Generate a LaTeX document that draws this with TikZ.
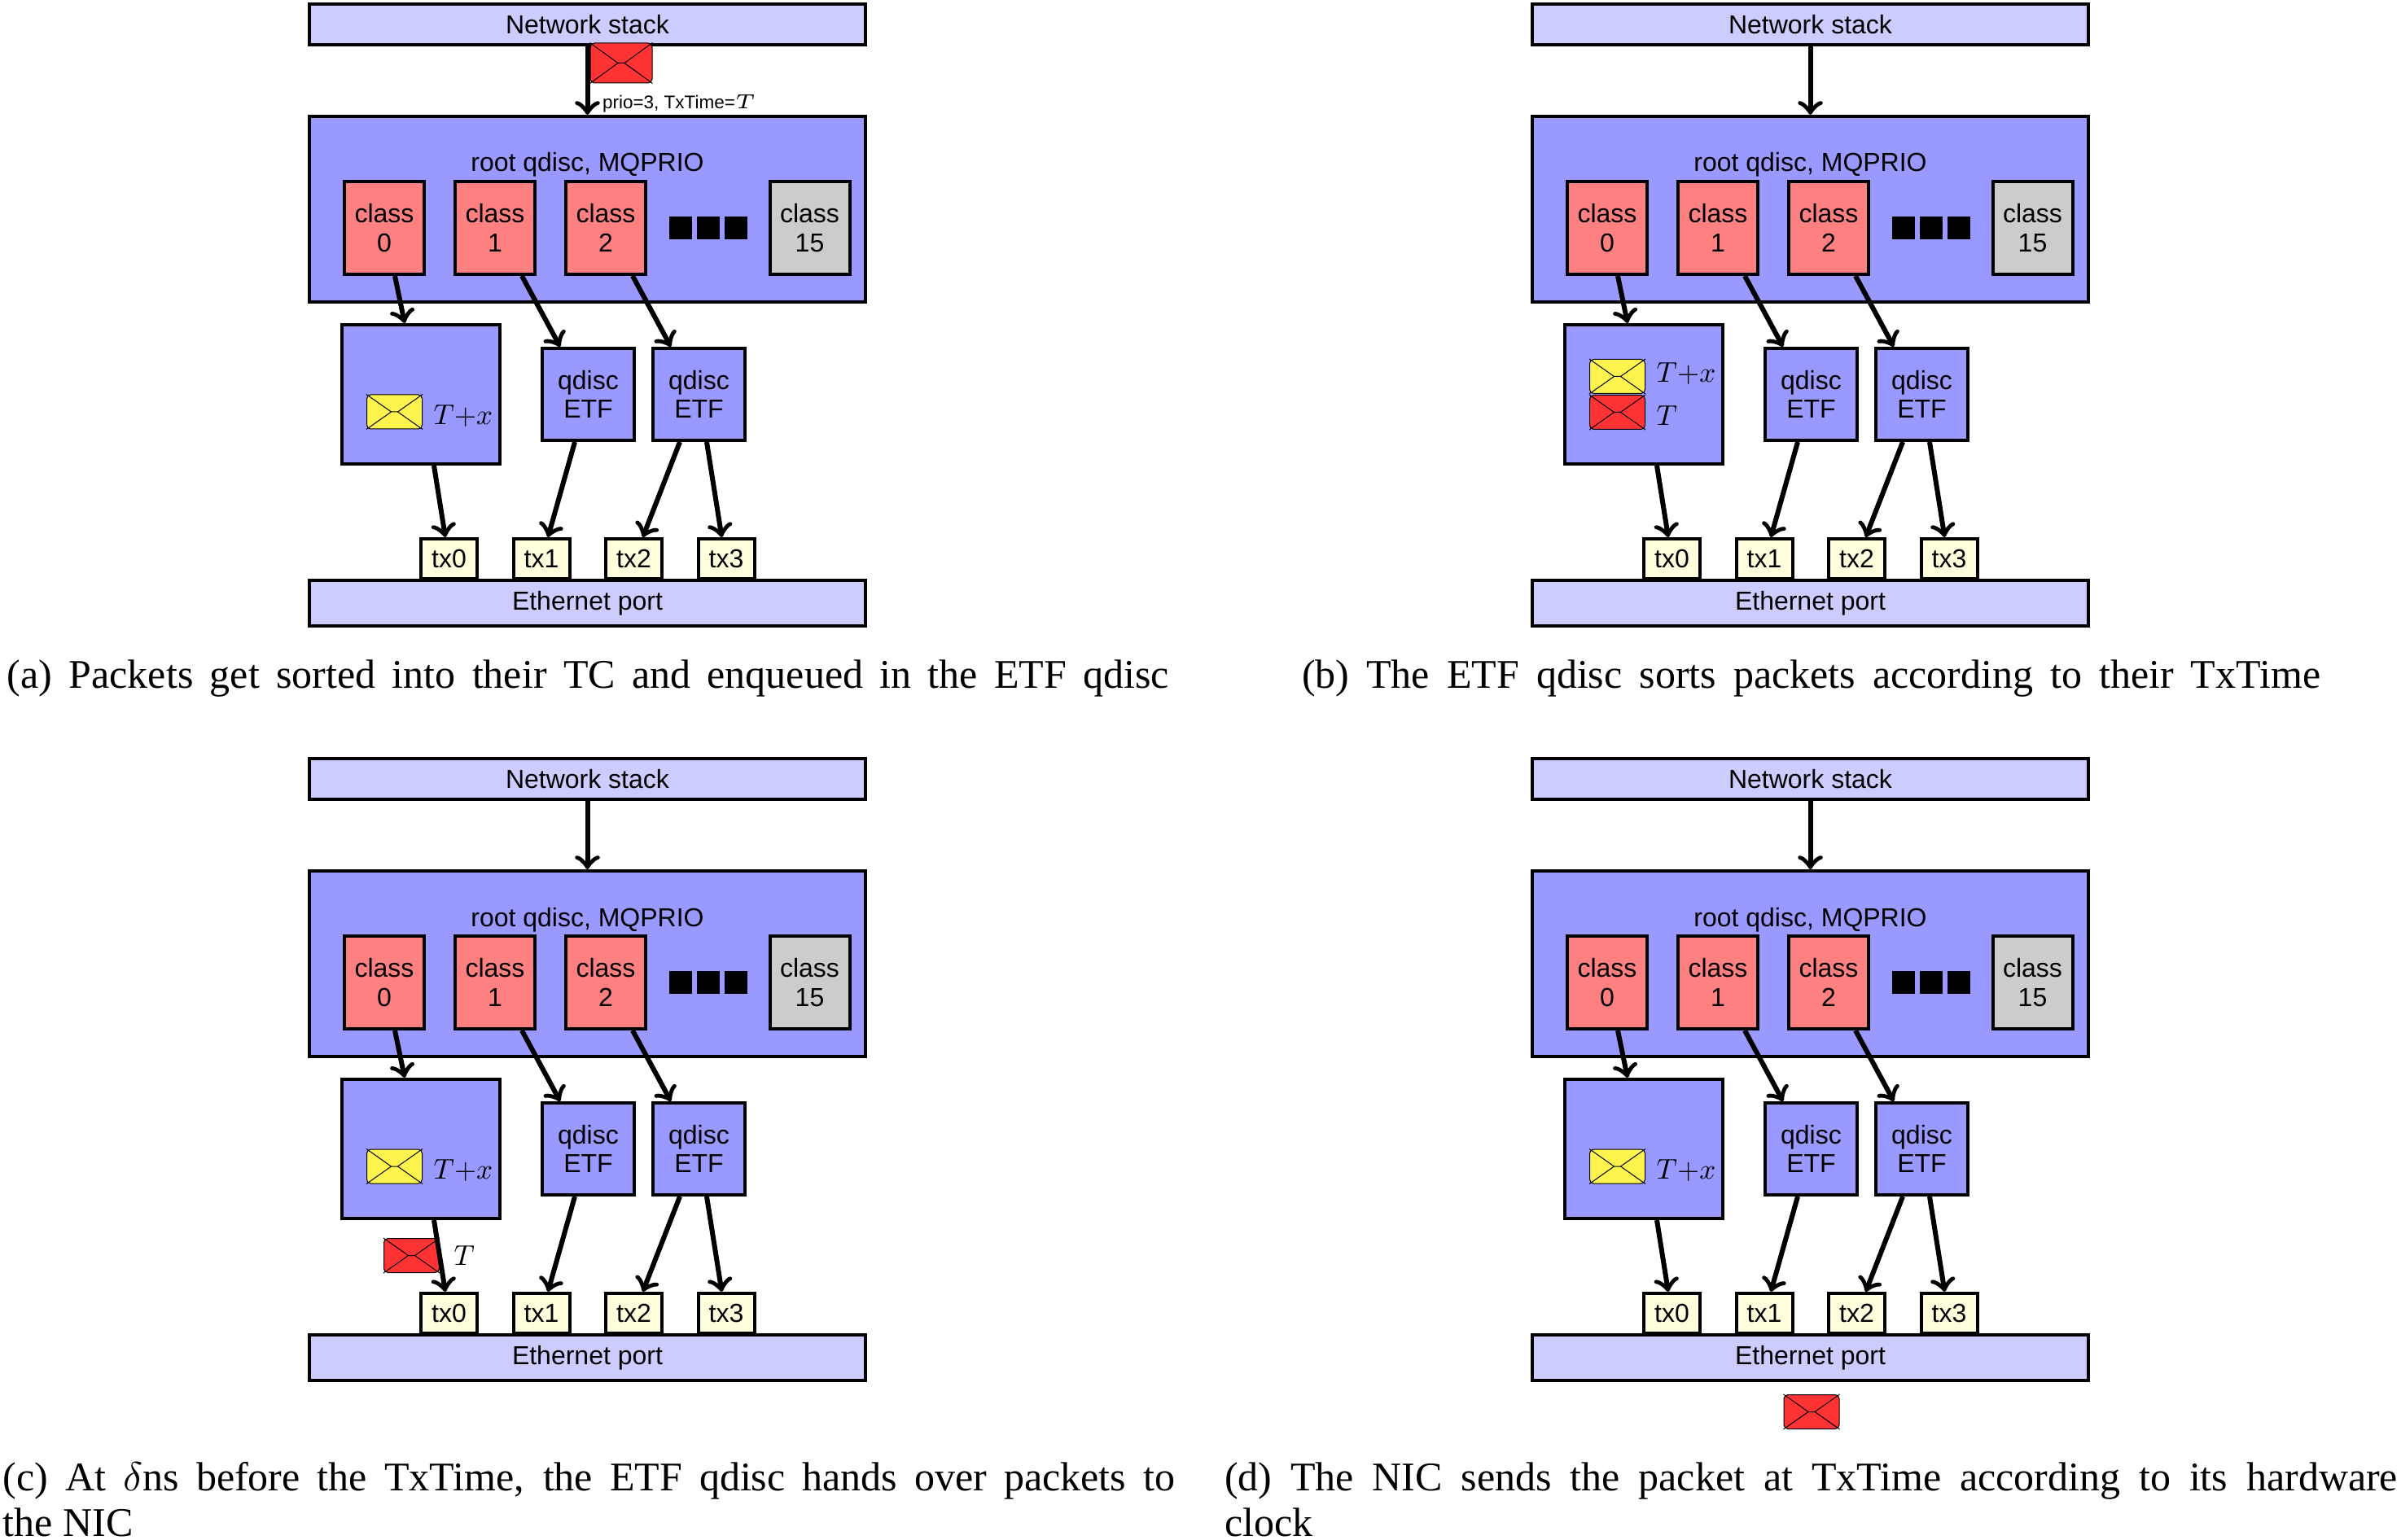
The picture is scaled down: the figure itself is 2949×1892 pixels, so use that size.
\documentclass[tikz,border=0pt]{standalone}
\usepackage{fontspec}
\setmainfont{Liberation Serif}
\setsansfont{Liberation Sans}
\usetikzlibrary{positioning}
\pgfdeclarelayer{back}
\pgfsetlayers{back,main}

\tikzset{
    main box/.style={draw,thick,inner sep=0pt,align=center,font=\sffamily\fontsize{6.4}{7.1}\selectfont},
    port box/.style={main box,fill=portblue,minimum width=136.6pt},
    root box/.style={main box,fill=rootblue,minimum width=136.6pt,minimum height=45.6pt},
    class box/.style={main box,fill=classred,minimum width=19.6pt,minimum height=22.8pt},
    etf box/.style={main box,fill=rootblue,minimum width=22.6pt,minimum height=22.6pt},
    tx box/.style={main box,fill=txyellow,minimum width=13.8pt,minimum height=9.8pt},
    dot box/.style={fill=black,inner sep=0pt,minimum size=5.6pt},
    pkt/.style={draw,line width=.2pt,rounded corners=1pt,inner sep=0pt,minimum width=13.6pt,minimum height=8.4pt},
    pkt line/.style={line width=.2pt},
    time lbl/.style={inner sep=0pt,scale=.7},
    flow/.style={->,very thick},
    cap line/.style={inner sep=0pt,anchor=base west}
}
\definecolor{portblue}{HTML}{CCCCFF}
\definecolor{rootblue}{HTML}{9999FF}
\definecolor{classred}{HTML}{FF8080}
\definecolor{classgray}{HTML}{CCCCCC}
\definecolor{txyellow}{HTML}{FFFFDD}
\definecolor{pktred}{HTML}{FF3333}
\definecolor{pktyellow}{HTML}{FFF44D}

% crossing lines of a packet
\newcommand{\pktlines}[1]{
    \draw[pkt line] (#1.north west) -- ([xshift=-.8pt]#1.center) -- (#1.south west)
        ([xshift=-.8pt]#1.center) -- ([xshift=.8pt]#1.center)
        (#1.north east) -- ([xshift=.8pt]#1.center) -- (#1.south east);
}
\newcommand{\capfit}[2]{\makebox[#1][s]{#2}}

\begin{document}
\begin{tikzpicture}[x=.2pt,y=-.2pt,>=to,node distance=27.2pt]
    \useasboundingbox (0,0) rectangle (2949,1892);

    \foreach \p/\dx/\dy in {a/0/0,b/1502/0,c/0/927,d/1502/927} {
    \begin{scope}[shift={(\dx,\dy)},name prefix=\p-]
        \node[port box,minimum height=10pt] (stack) at (721.5,30) {Network stack};
        \node[root box] (root) at (721.5,257) {};
        \node[inner sep=0pt,font=\sffamily\fontsize{6.4}{7.1}\selectfont,anchor=base] (rootlbl) at (721.5,211) {root qdisc, MQPRIO};
        \node[class box] (cls0) at (472,280) {class\\0};
        \node[class box] (cls1) [right of=cls0] {class\\1};
        \node[class box] (cls2) [right of=cls1] {class\\2};
        \node[dot box,node distance=18.3pt] (dot0) [right of=cls2] {};
        \node[dot box,node distance=6.8pt] (dot1) [right of=dot0] {};
        \node[dot box,node distance=6.8pt] (dot2) [right of=dot1] {};
        \node[class box,fill=classgray,node distance=50.1pt] (cls15) [right of=cls2] {class\\15};
        \node[main box,fill=rootblue,minimum width=38.8pt,minimum height=34.2pt] (lq) at (517,484.5) {};
        \node[etf box] (etf1) at (722.5,484.5) {qdisc\\ETF};
        \node[etf box] (etf2) [right of=etf1] {qdisc\\ETF};
        \node[port box,minimum height=11.2pt] (eth) at (721.5,741) {Ethernet port};
        \node[tx box] (tx0) at (551.5,686.5) {tx0};
        \node[tx box,node distance=22.7pt] (tx1) [right of=tx0] {tx1};
        \node[tx box,node distance=22.7pt] (tx2) [right of=tx1] {tx2};
        \node[tx box,node distance=22.7pt] (tx3) [right of=tx2] {tx3};
        \draw[flow] (stack) -- (root);
        \draw[flow] ([xshift=2.6pt]cls0.south) -- ([xshift=-4pt]lq.north);
        \draw[flow] ([xshift=6.6pt]cls1.south) -- ([xshift=-6.9pt]etf1.north);
        \draw[flow] ([xshift=6.6pt]cls2.south) -- ([xshift=-6.9pt]etf2.north);
        \draw[flow] ([xshift=3.2pt]lq.south) -- ([xshift=-.9pt]tx0.north);
        \draw[flow] ([xshift=-3.3pt]etf1.south) -- ([xshift=1.6pt]tx1.north);
        \draw[flow] ([xshift=-4.7pt]etf2.south) -- ([xshift=2.2pt]tx2.north);
        \draw[flow] ([xshift=1.9pt]etf2.south) -- ([xshift=-1.1pt]tx3.north);
    \end{scope}
    }

    % packets of (a)
    \node[pkt,fill=pktred,minimum width=15.2pt,minimum height=9.8pt] (a-pr) at (763,77.5) {};
    \pktlines{a-pr}
    \node[inner sep=0pt,anchor=west,font=\sffamily\fontsize{4.5}{5}\selectfont] (a-prio) at (739,127) {prio=3, TxTime=$T$};
    \node[pkt,fill=pktyellow] (a-py) at (484.5,506) {};
    \pktlines{a-py}
    \node[time lbl,yshift=-1.5pt] (a-ly) [right=2.6pt of a-py] {$T{+}x$};

    % packets of (b)
    \node[pkt,fill=pktyellow] (b-py) at (1986.5,462.5) {};
    \pktlines{b-py}
    \node[pkt,fill=pktred] (b-pr) at (1986.5,506.5) {};
    \pktlines{b-pr}
    \node[time lbl,yshift=1.1pt] (b-ly) [right=2.6pt of b-py] {$T{+}x$};
    \node[time lbl,yshift=-1.2pt] (b-lr) [right=2.6pt of b-pr] {$T$};

    % packets of (c)
    \node[pkt,fill=pktyellow] (c-py) at (484.5,1433) {};
    \pktlines{c-py}
    \node[time lbl,yshift=-1.5pt] (c-ly) [right=2.6pt of c-py] {$T{+}x$};
    \begin{pgfonlayer}{back}
    \node[pkt,fill=pktred] (c-pr) at (505.5,1542.5) {};
    \pktlines{c-pr}
    \end{pgfonlayer}
    \node[time lbl] (c-lr) [right=3.4pt of c-pr] {$T$};

    % packets of (d)
    \node[pkt,fill=pktyellow] (d-py) at (1986.5,1433) {};
    \pktlines{d-py}
    \node[time lbl,yshift=-1.5pt] (d-ly) [right=2.6pt of d-py] {$T{+}x$};
    \node[pkt,fill=pktred] (d-pr) at (2225,1734.5) {};
    \pktlines{d-pr}

    % captions
    \node[cap line] (cap-a) at (8,845) {\capfit{285.4pt}{(a) Packets get sorted into their TC and enqueued in the ETF qdisc}};
    \node[cap line] (cap-b) at (1598,845) {\capfit{250.2pt}{(b) The ETF qdisc sorts packets according to their TxTime}};
    \node[cap line] (cap-c) at (3,1831) {\capfit{287.8pt}{(c) At $\delta$ns before the TxTime, the ETF qdisc hands over packets to}};
    \node[cap line] (cap-cc) at (3,1887) {the NIC};
    \node[cap line] (cap-d) at (1503,1831) {\capfit{288.2pt}{(d) The NIC sends the packet at TxTime according to its hardware}};
    \node[cap line] (cap-dd) at (1503,1887) {clock};
\end{tikzpicture}
\end{document}
